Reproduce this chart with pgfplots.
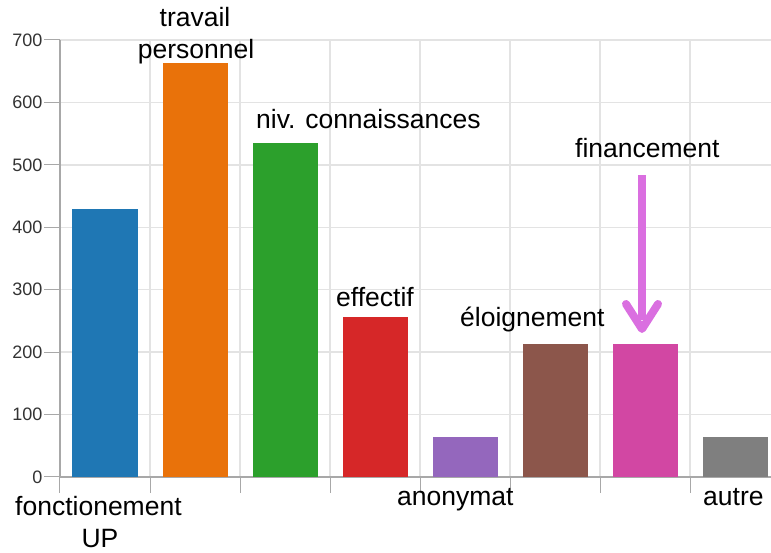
\documentclass[border=0pt]{standalone}
\usepackage{pgfplots}
\pgfplotsset{compat=1.18}
\usepackage{fontspec}
\setmainfont{Liberation Sans}
\usetikzlibrary{arrows.meta}
\definecolor{cA}{HTML}{1F77B4}
\definecolor{cB}{HTML}{E9720A}
\definecolor{cC}{HTML}{2CA02C}
\definecolor{cD}{HTML}{D62728}
\definecolor{cE}{HTML}{9467BD}
\definecolor{cF}{HTML}{8C564B}
\definecolor{cG}{HTML}{D247A3}
\definecolor{cH}{HTML}{7F7F7F}
\definecolor{arr}{HTML}{DA6FE0}
\definecolor{gridc}{HTML}{E3E3E3}
\definecolor{axc}{HTML}{A8A8A8}
\definecolor{tickc}{HTML}{333333}
\begin{document}
\begin{tikzpicture}
\begin{axis}[
  scale only axis, width=711bp, height=437bp,
  xmin=-0.5, xmax=7.4, ymin=0, ymax=700,
  axis x line=bottom, axis y line=left,
  axis line style={color=axc, line width=1.5bp, -},
  xtick={-0.5,0.5,...,6.5}, xticklabels={},
  ytick={0,100,...,700},
  grid=major, major grid style={color=gridc, line width=1.3bp},
  tick align=outside, major tick length=16bp,
  tick style={color=axc, line width=1bp},
  yticklabel style={font=\fontsize{18bp}{20bp}\selectfont, text=tickc, xshift=2bp},
  /pgf/number format/assume math mode=true,
  ybar, bar width=65bp, bar shift=0pt,
  every axis plot/.append style={draw=none},
  clip=false,
]
\addplot[fill=cA] coordinates {(0,430)};
\addplot[fill=cB] coordinates {(1,663)};
\addplot[fill=cC] coordinates {(2,535)};
\addplot[fill=cD] coordinates {(3,256)};
\addplot[fill=cE] coordinates {(4,64)};
\addplot[fill=cF] coordinates {(5,213)};
\addplot[fill=cG] coordinates {(6,213)};
\addplot[fill=cH] coordinates {(7,64)};
\end{axis}
\begin{scope}[x=1bp,y=-1bp,shift={(current axis.south west)},shift={(-60,-477)},
  every node/.style={font=\fontsize{26.5bp}{30bp}\selectfont, inner sep=0pt}]
\fill[arr] (638,175) rectangle (646,320);
\draw[arr, line width=8bp, line cap=round, line join=round]
  (626,304) -- (642,329) -- (658,304);
\node[anchor=base] at (195,27) {travail};
\node[anchor=base] at (196,59) {personnel};
\node[anchor=base west] at (256,129) {niv. connaissances};
\node[anchor=base west] at (336,307) {effectif};
\node[anchor=base west] at (460,327) {éloignement};
\node[anchor=base west] at (575,158) {financement};
\node[anchor=base west] at (15,516) {fonctionement};
\node[anchor=base] at (100,548) {UP};
\node[anchor=base west] at (397,506) {anonymat};
\node[anchor=base west] at (703,506) {autre};
\pgfresetboundingbox
\path (0,0) rectangle (771,553);
\end{scope}
\end{tikzpicture}
\end{document}
